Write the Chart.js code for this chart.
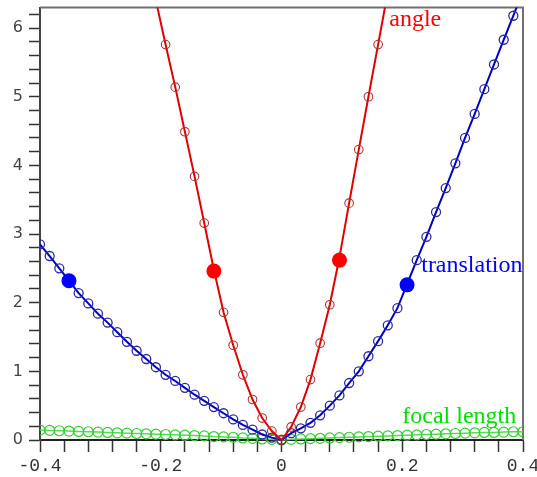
<!DOCTYPE html>
<html>
<head>
<meta charset="utf-8">
<script src="https://cdn.jsdelivr.net/npm/chart.js@4.4.0/dist/chart.umd.min.js"></script>
<style>
  body { margin: 0; background: #fff; }
</style>
</head>
<body>
<canvas id="curves" width="537" height="477"></canvas>
<script>
// sample positions along x
let xs = [-0.4, -0.384, -0.368, -0.352, -0.336, -0.32, -0.304, -0.288, -0.272, -0.256,
  -0.24, -0.224, -0.208, -0.192, -0.176, -0.16, -0.144, -0.128, -0.112, -0.096,
  -0.08, -0.064, -0.048, -0.032, -0.016, 0, 0.016, 0.032, 0.048, 0.064,
  0.08, 0.096, 0.112, 0.128, 0.144, 0.16, 0.176, 0.192, 0.208, 0.224,
  0.24, 0.256, 0.272, 0.288, 0.304, 0.32, 0.336, 0.352, 0.368, 0.384, 0.4];

let angle = [null, null, null, null, null, null, null, null, null, null,
  null, null, 6.40, 5.76, 5.14, 4.49, 3.84, 3.16, 2.48, 1.86,
  1.38, 0.95, 0.59, 0.32, 0.13, 0.0, 0.19, 0.48, 0.88, 1.41,
  1.97, 2.66, 3.45, 4.23, 5.00, 5.76, 6.52, null, null, null,
  null, null, null, null, null, null, null, null, null, null, null];

let translation = [2.85, 2.68, 2.50, 2.32, 2.14, 1.99, 1.84, 1.71, 1.57, 1.43,
  1.30, 1.18, 1.06, 0.95, 0.86, 0.76, 0.66, 0.57, 0.48, 0.39,
  0.30, 0.22, 0.15, 0.08, 0.035, 0.0, 0.10, 0.17, 0.25, 0.36,
  0.50, 0.65, 0.83, 1.00, 1.22, 1.44, 1.67, 1.92, 2.27, 2.62,
  2.96, 3.32, 3.67, 4.03, 4.40, 4.75, 5.11, 5.47, 5.83, 6.18, 6.54];

let focal = [0.145, 0.14, 0.135, 0.13, 0.125, 0.12, 0.115, 0.11, 0.105, 0.10,
  0.095, 0.09, 0.085, 0.08, 0.075, 0.07, 0.065, 0.06, 0.05, 0.045,
  0.04, 0.03, 0.025, 0.015, 0.01, 0.0, 0.01, 0.015, 0.02, 0.025,
  0.03, 0.035, 0.04, 0.045, 0.05, 0.055, 0.06, 0.065, 0.07, 0.075,
  0.08, 0.085, 0.09, 0.095, 0.10, 0.105, 0.11, 0.11, 0.115, 0.12, 0.12];

// the two highlighted points on each curve
let angleDotX = [-0.112, 0.096];
let angleDotY = [2.46, 2.62];
let transDotX = [-0.352, 0.208];
let transDotY = [2.32, 2.26];

let seriesNames = ['angle', 'translation', 'focal length'];

function pairs(xv, yv) {
  return xv.map((v, i) => ({x: v, y: yv[i]}));
}

function onStep(v, step) {
  return Math.abs(v / step - Math.round(v / step)) < 1e-6;
}

// frame on top and right side
const frame = {
  id: 'frame',
  beforeDatasetsDraw(chart) {
    const {ctx, chartArea: a} = chart;
    ctx.save();
    ctx.strokeStyle = '#707070';
    ctx.lineWidth = 2;
    ctx.beginPath();
    ctx.moveTo(a.left, a.top);
    ctx.lineTo(a.right, a.top);
    ctx.lineTo(a.right, a.bottom);
    ctx.stroke();
    ctx.restore();
  }
};

// curve names written next to the curves
const curveLabels = {
  id: 'curveLabels',
  afterDatasetsDraw(chart) {
    const {ctx, scales: {x, y}} = chart;
    const spots = [
      {text: seriesNames[0], color: '#ff0000', at: [0.1785, 6.03]},
      {text: seriesNames[1], color: '#0000ff', at: [0.2314, 2.44]},
      {text: seriesNames[2], color: '#00e000', at: [0.2, 0.25]}
    ];
    ctx.save();
    ctx.font = '24px "Liberation Serif"';
    ctx.textAlign = 'left';
    ctx.textBaseline = 'alphabetic';
    spots.forEach(s => {
      ctx.fillStyle = s.color;
      ctx.fillText(s.text, x.getPixelForValue(s.at[0]), y.getPixelForValue(s.at[1]));
    });
    ctx.restore();
  }
};

let ctx = document.getElementById('curves').getContext('2d');

let curveClip = {left: 0, top: 0, right: 0, bottom: 6};

let myChart = new Chart(ctx, {
  type: 'line',
  data: {
    datasets: [{
      label: 'angle points',
      data: pairs(angleDotX, angleDotY),
      showLine: false,
      pointRadius: 7.5,
      pointBorderWidth: 0,
      pointBackgroundColor: '#ff0000',
      pointBorderColor: '#ff0000'
    }, {
      label: 'translation points',
      data: pairs(transDotX, transDotY),
      showLine: false,
      pointRadius: 7.5,
      pointBorderWidth: 0,
      pointBackgroundColor: '#0000ff',
      pointBorderColor: '#0000ff'
    }, {
      label: seriesNames[0],
      data: pairs(xs, angle),
      borderColor: '#e00000',
      borderWidth: 2,
      pointRadius: 4.3,
      pointBorderWidth: 1.1,
      pointBorderColor: '#b03030',
      pointBackgroundColor: 'rgba(0,0,0,0)',
      clip: curveClip
    }, {
      label: seriesNames[1],
      data: pairs(xs, translation),
      borderColor: '#0000c0',
      borderWidth: 2,
      pointRadius: 4.5,
      pointBorderWidth: 1.3,
      pointBorderColor: '#2a2aa0',
      pointBackgroundColor: 'rgba(0,0,0,0)',
      clip: curveClip
    }, {
      label: seriesNames[2],
      data: pairs(xs, focal),
      borderColor: '#50dd50',
      borderWidth: 1.5,
      pointRadius: 5,
      pointBorderWidth: 1.2,
      pointBorderColor: '#33cc33',
      pointBackgroundColor: 'rgba(0,0,0,0)',
      clip: curveClip
    }]
  },
  options: {
    responsive: false,
    animation: false,
    layout: {
      padding: {top: 5, right: 14, left: 0, bottom: 0}
    },
    plugins: {
      legend: {display: false},
      tooltip: {enabled: false}
    },
    elements: {
      line: {tension: 0}
    },
    scales: {
      x: {
        type: 'linear',
        min: -0.4,
        max: 0.4,
        grid: {
          drawOnChartArea: false,
          drawTicks: true,
          tickLength: 12,
          tickColor: '#333',
          tickWidth: 1.5
        },
        border: {display: true, color: '#222', width: 2},
        ticks: {
          stepSize: 0.04,
          autoSkip: false,
          maxRotation: 0,
          padding: 3,
          color: '#333',
          font: {family: '"Liberation Mono"', size: 18},
          callback: (v) => {
            if (!onStep(v, 0.2)) return '';
            return Math.abs(v) < 1e-9 ? '0' : v.toFixed(1);
          }
        },
        afterFit: (scale) => {
          scale.height = 37;
          scale.paddingLeft = 0;
          scale.paddingRight = 0;
        }
      },
      y: {
        type: 'linear',
        min: 0,
        max: 6.3,
        grid: {
          drawOnChartArea: false,
          drawTicks: true,
          tickLength: 11,
          tickColor: '#333',
          tickWidth: 1.5
        },
        border: {display: true, color: '#444', width: 2},
        ticks: {
          stepSize: 0.2,
          includeBounds: false,
          autoSkip: false,
          padding: 6,
          color: '#444',
          font: {family: '"DejaVu Sans"', size: 16},
          callback: (v) => onStep(v, 1) ? String(Math.round(v)) : ''
        },
        afterBuildTicks: (scale) => {
          scale.ticks = scale.ticks.filter(t => onStep(t.value, 0.2));
        },
        afterFit: (scale) => {
          scale.width = 40;
          scale.paddingTop = 0;
          scale.paddingBottom = 0;
        }
      }
    }
  },
  plugins: [frame, curveLabels]
});
</script>
</body>
</html>
